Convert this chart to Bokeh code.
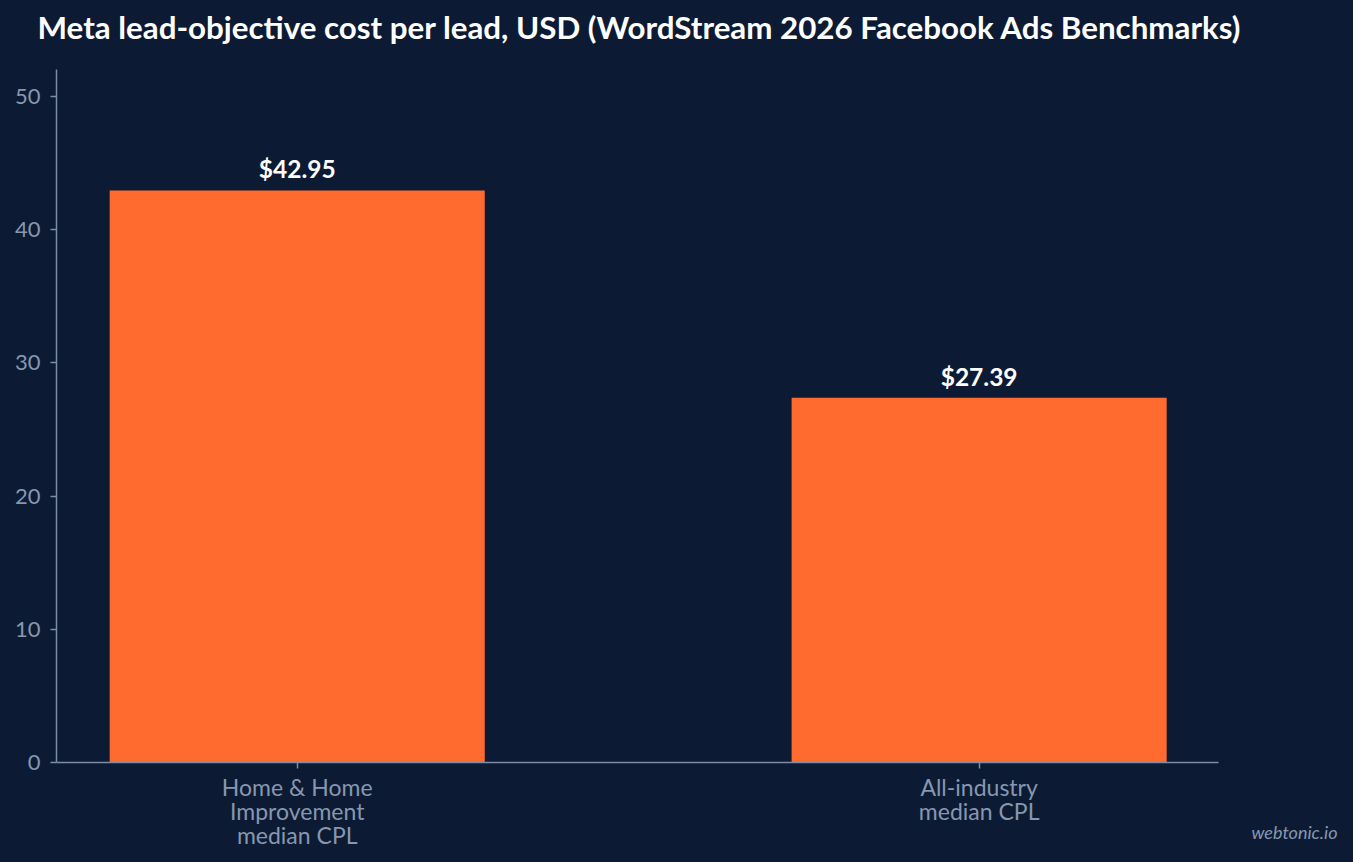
from bokeh.plotting import figure
from bokeh.models import Range1d, FixedTicker, Title, LabelSet, ColumnDataSource
from bokeh.core.properties import value
from bokeh.embed import file_html
from bokeh.resources import INLINE

# ---- data ----
categories = ["Home & Home\nImprovement\nmedian CPL", "All-industry\nmedian CPL"]
cpl_usd = [42.95, 27.39]
value_labels = ["$42.95", "$27.39"]
y_ticks = [0, 10, 20, 30, 40, 50]
title_text = "Meta lead-objective cost per lead, USD (WordStream 2026 Facebook Ads Benchmarks)"
watermark = "webtonic.io"

BG = "#0c1b33"
BAR = "#ff6b2e"
AXIS = "#7d8da6"
TICKLBL = "#8797b0"
FONT = "Lato"

W, H = 1353, 860

xs = list(range(len(categories)))
src = ColumnDataSource(dict(x=xs, top=cpl_usd, lbl=value_labels))

p = figure(width=W, height=H, output_backend="svg", toolbar_location=None,
           x_range=Range1d(-0.353, 1.351), y_range=Range1d(0, 52.03),
           min_border_left=56, min_border_right=W - 1218, min_border_top=69,
           min_border_bottom=H - 762)
p.background_fill_color = BG
p.border_fill_color = BG
p.outline_line_color = None
p.grid.visible = False

p.title.text = title_text
p.title.text_font = FONT
p.title.text_font_style = "bold"
p.title.text_font_size = "31.3px"
p.title.text_color = "#ffffff"
p.title.align = "left"
p.title.vertical_align = "top"
p.title.offset = -19
p.title.standoff = 4
p.title.padding = dict(left=0, right=0, top=0, bottom=20)

p.vbar(x="x", top="top", width=0.55, bottom=0, source=src, fill_color=BAR, line_color=None)
p.add_layout(LabelSet(x="x", y="top", text="lbl", source=src, text_align="center",
                      text_baseline="alphabetic", y_offset=12, text_color="#ffffff",
                      text_font=value(FONT), text_font_style="bold", text_font_size="24.5px"))

for ax in (p.xaxis[0], p.yaxis[0]):
    ax.axis_line_color = AXIS
    ax.axis_line_width = 1.5
    ax.major_tick_line_color = AXIS
    ax.major_tick_line_width = 1.5
    ax.major_tick_out = 6
    ax.major_tick_in = 0
    ax.minor_tick_line_color = None
    ax.major_label_text_color = TICKLBL
    ax.major_label_text_font = FONT

p.yaxis.ticker = FixedTicker(ticks=y_ticks)
p.yaxis.major_label_standoff = 10
p.yaxis.major_label_text_font_size = "22px"
p.xaxis.ticker = FixedTicker(ticks=xs)
p.xaxis.major_label_overrides = {i: c for i, c in zip(xs, categories)}
p.xaxis.major_label_standoff = 4
p.xaxis.major_label_text_font_size = "23px"
p.xaxis.major_label_text_line_height = 0.87

wm = Title(text=watermark, align="right", vertical_align="top", offset=-119, text_font=FONT,
           text_font_style="italic", text_font_size="18px", text_color=TICKLBL, standoff=-64)
p.add_layout(wm, "below")

html = file_html(p, INLINE)
html = html.replace("</head>", "<style>body{background:%s;}</style></head>" % BG)
open("out.html", "w").write(html)
